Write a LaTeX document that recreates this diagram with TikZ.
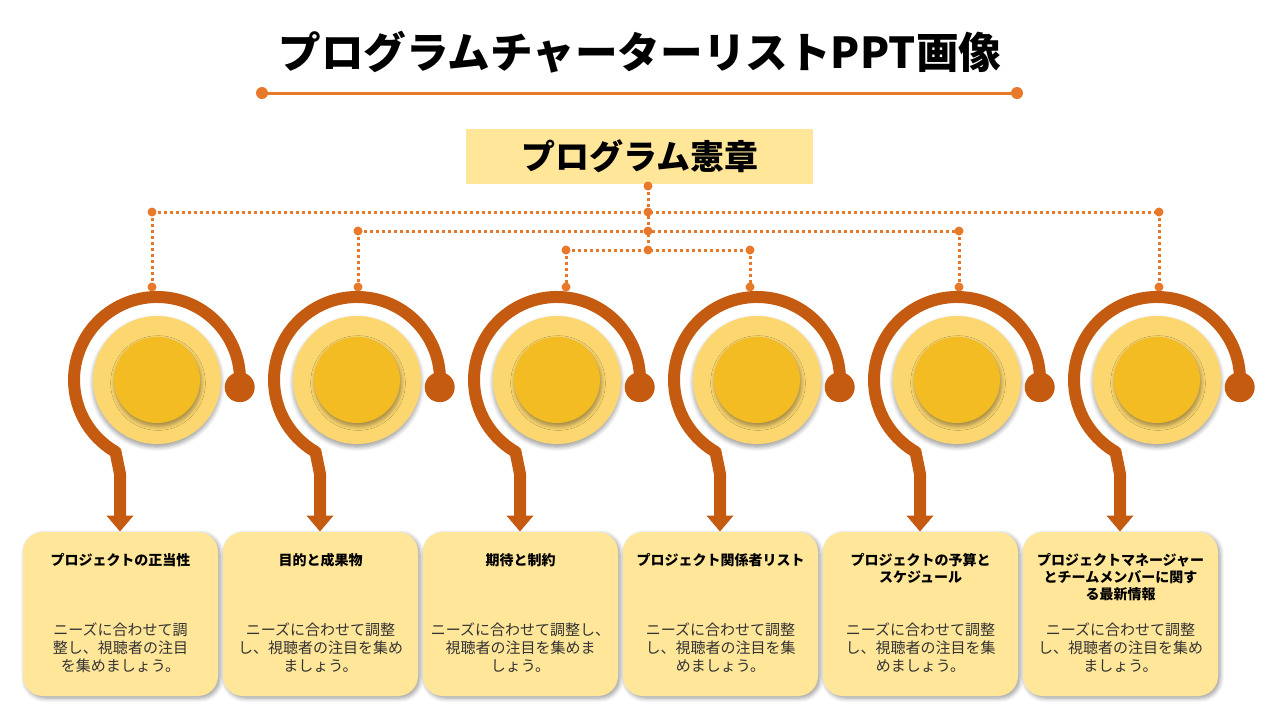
\documentclass[tikz,border=0pt]{standalone}
\usepackage{fontspec}
\setmainfont{Noto Sans CJK JP}
\usetikzlibrary{arrows.meta,shadows.blur}
\definecolor{dot}{HTML}{E8782A}
\definecolor{arc}{HTML}{C55A11}
\definecolor{lightc}{HTML}{FCD770}
\definecolor{innerc}{HTML}{F2BC22}
\definecolor{boxc}{HTML}{FFE699}
\tikzset{
 tree/.style={dot,line width=1.5pt,dash pattern=on 1.5pt off 1.5pt},
 jd/.style={circle,fill=dot,inner sep=0pt,minimum size=4.5pt},
 card/.style={rounded corners=10pt,fill=boxc,minimum width=97.5pt,minimum height=82pt,blur shadow={shadow xshift=1pt,shadow yshift=-1pt,shadow blur steps=6}},
 ttl/.style={font=\bfseries\fontsize{7}{8.5}\selectfont,align=center},
 bdy/.style={font=\fontsize{7.5}{9}\selectfont,align=center,text=black!80},
 ring/.style={arc,line width=6pt},
}
\begin{document}
\begin{tikzpicture}[x=0.5pt,y=-0.5pt]
\useasboundingbox (0,0) rectangle (1280,720);
\node[font=\bfseries\fontsize{21.3}{23}\selectfont] (title) at (640,52) {プログラムチャーターリストPPT画像};
\coordinate (ul) at (262,93); \coordinate (ur) at (1017,93);
\draw[dot,line width=1.5pt] (ul) -- (ur);
\node[jd,minimum size=6pt] at (ul) {}; \node[jd,minimum size=6pt] at (ur) {};
\node[fill=boxc,minimum width=173.5pt,minimum height=27.5pt,font=\bfseries\fontsize{17}{19}\selectfont] (hdr) at (639.5,156.5) {プログラム憲章};
% tree
\coordinate (t0) at (648,186);
\coordinate (m1) at (648,212); \coordinate (m2) at (648,231); \coordinate (m3) at (648,250);
\coordinate (a1) at (152,212); \coordinate (a6) at (1159,212);
\coordinate (a2) at (358,231); \coordinate (a5) at (959,231);
\coordinate (a3) at (566,250); \coordinate (a4) at (750,250);
\coordinate (b1) at (152,287); \coordinate (b2) at (358,287); \coordinate (b3) at (566,287);
\coordinate (b4) at (750,287); \coordinate (b5) at (959,287); \coordinate (b6) at (1159,287);
\draw[tree] (t0) -- (m3);
\draw[tree] (a1) -- (a6); \draw[tree] (a2) -- (a5); \draw[tree] (a3) -- (a4);
\foreach \i in {1,...,6} \draw[tree] (a\i) -- (b\i);
\foreach \p in {t0,m1,m2,m3,a1,a2,a3,a4,a5,a6,b1,b2,b3,b4,b5,b6} \node[jd] at (\p) {};
% units
\foreach \i/\t/\b in {
 0/{プロジェクトの正当性}/{ニーズに合わせて調\\整し、視聴者の注目\\を集めましょう。},
 1/{目的と成果物}/{ニーズに合わせて調整\\し、視聴者の注目を集め\\ましょう。},
 2/{期待と制約}/{ニーズに合わせて調整し、\\視聴者の注目を集めま\\しょう。},
 3/{プロジェクト関係者リスト}/{ニーズに合わせて調整\\し、視聴者の注目を集\\めましょう。},
 4/{プロジェクトの予算と\\スケジュール}/{ニーズに合わせて調整\\し、視聴者の注目を集\\めましょう。},
 5/{プロジェクトマネージャー\\とチームメンバーに関す\\る最新情報}/{ニーズに合わせて調整\\し、視聴者の注目を集め\\ましょう。}} {
 \begin{scope}[xshift=\i*100pt]
  \node[card] (box\i) at (120.5,614) {};
  \node[ttl,anchor=north] (tt\i) at (120.5,546) {\t};
  \node[bdy] (bd\i) at (120.5,648) {\b};
  \node[circle,fill=lightc,minimum size=64pt,inner sep=0pt,blur shadow={shadow xshift=0pt,shadow yshift=-1.5pt,shadow blur steps=6}] (lc\i) at (157,380) {};
  \node[circle,fill=innerc,minimum size=43pt,inner sep=0pt,blur shadow={shadow xshift=0.5pt,shadow yshift=-1.5pt,shadow blur steps=6}] (ic\i) at (157,380) {};
  \coordinate (e\i) at (239.7,387.2);
  \coordinate (k\i) at (120,474);
  \draw[ring,line join=round,-{Triangle[width=13pt,length=8pt]}] (e\i) arc[start angle=365,end angle=120,radius=83] -- (k\i) -- (box\i.north -| k\i);
  \node[circle,fill=arc,minimum size=15pt,inner sep=0pt] (ed\i) at (e\i) {};
 \end{scope}}
\end{tikzpicture}
\end{document}
